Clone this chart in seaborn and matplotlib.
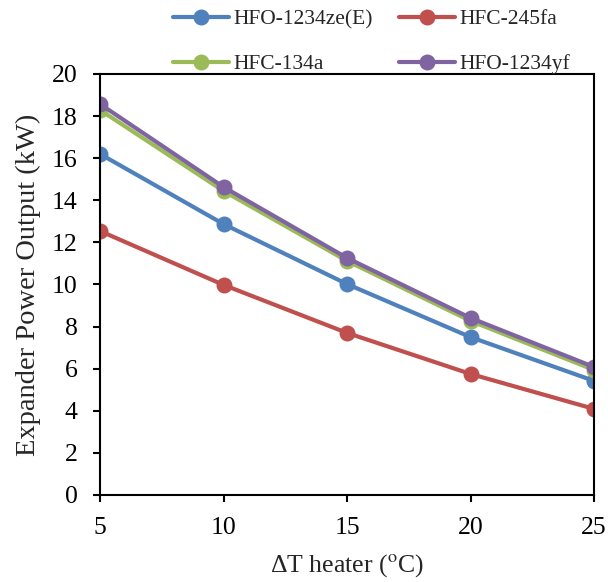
import matplotlib
matplotlib.use("Agg")
import matplotlib.pyplot as plt
import seaborn as sns
import pandas as pd

dT = [5, 10, 15, 20, 25]
ze = [16.2, 12.87, 10.02, 7.5, 5.42]
r245fa = [12.54, 9.98, 7.7, 5.75, 4.09]
r134a = [18.29, 14.44, 11.12, 8.27, 5.94]
yf = [18.57, 14.63, 11.26, 8.41, 6.08]
names = ["HFO-1234ze(E)", "HFC-245fa", "HFC-134a", "HFO-1234yf"]
colors = ["#4F81BD", "#C0504D", "#9BBB59", "#8064A2"]

rows = []
for n, vals in zip(names, [ze, r245fa, r134a, yf]):
    for x, v in zip(dT, vals):
        rows.append({"dT": x, "P": v, "fluid": n})
df = pd.DataFrame(rows)

sns.set_style("white")
plt.rcParams["font.family"] = ["Liberation Serif", "DejaVu Serif"]
plt.rcParams["mathtext.fontset"] = "stix"

fig = plt.figure(figsize=(6.08, 5.82), dpi=100)
ax = fig.add_axes([0.1645, 0.1495, 0.8125, 0.7234])
sns.lineplot(data=df, x="dT", y="P", hue="fluid", hue_order=names,
             palette=colors, marker="o", markersize=11.5, markeredgewidth=0,
             linewidth=3, ax=ax)
ax.set_xlim(5, 25)
ax.set_ylim(0, 20)
ax.set_xticks(dT)
ax.set_yticks(range(0, 21, 2))
ax.tick_params(axis="both", labelsize=18.5, direction="out", length=5, width=1.5,
               colors="black", bottom=True, left=True)
ax.tick_params(axis="x", pad=11)
ax.tick_params(axis="y", pad=11)
for s in ax.spines.values():
    s.set_color("black")
    s.set_linewidth(1.5)
ax.set_xlabel("ΔT heater ($^{\\mathrm{o}}$C)", fontsize=18.5, labelpad=9)
ax.set_ylabel("Expander Power Output (kW)", fontsize=20.5, labelpad=8)
ax.grid(False)
h, l = ax.get_legend_handles_labels()
order = [0, 2, 1, 3]
fig.legend([h[i] for i in order], [l[i] for i in order], ncol=2,
           loc="upper left", bbox_to_anchor=(0.285, 0.984),
           frameon=False, fontsize=15.5, columnspacing=1.2, handlelength=2.6,
           labelspacing=1.15, handletextpad=0.2, borderpad=0, borderaxespad=0)
ax.get_legend().remove()
fig.savefig("out.png", dpi=100)
